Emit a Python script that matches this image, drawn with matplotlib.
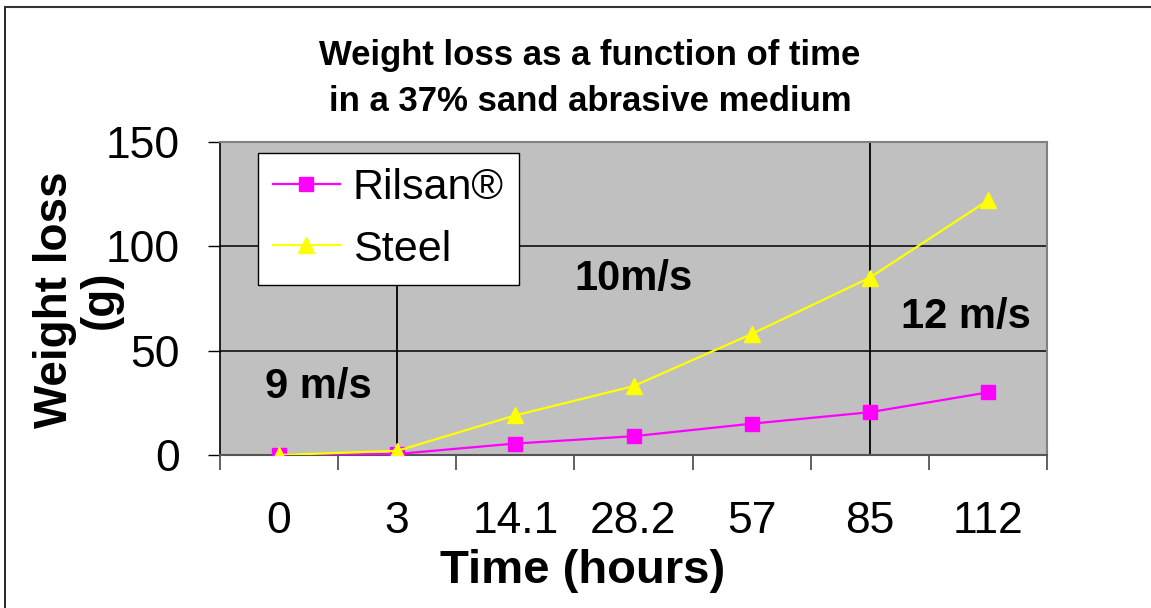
import matplotlib
matplotlib.use("Agg")
import matplotlib.pyplot as plt
from matplotlib.lines import Line2D

plt.rcParams['font.family'] = ['Liberation Sans', 'DejaVu Sans']

# Data
time_labels = ["0", "3", "14.1", "28.2", "57", "85", "112"]
rilsan = [0, 0.5, 5.5, 9, 15, 20.5, 30]
steel = [0, 2, 19, 33, 58, 85, 122]
series_names = ["Rilsan®", "Steel"]
speed_labels = ["9 m/s", "10m/s", "12 m/s"]
speed_x = [0.33, 3.0, 5.81]
speed_y = [32.5, 84.5, 66]
divider_idx = [1, 5]
divider_top = [0.6, 1.0]

fig = plt.figure(figsize=(11.51, 6.08), dpi=100)
ax = fig.add_axes([220/1151, 1-455/608, 827/1151, 313/608])
ax.set_facecolor('#C0C0C0')

x = list(range(len(time_labels)))
ax.set_xlim(-0.5, len(time_labels) - 0.5)
ax.set_ylim(0, 150)

# gridlines
for yv in [50, 100]:
    ax.axhline(yv, color='black', lw=1.1, zorder=1)

# vertical dividers
for d, top in zip(divider_idx, divider_top):
    ax.axvline(d, ymax=top, color='black', lw=1.3, zorder=1.5)

ax.plot(x, rilsan, color='#FF00FF', lw=1.6, marker='s', markersize=10,
        markeredgecolor='#FF00FF', label=series_names[0], zorder=3)
ax.plot(x, steel, color='#FFFF00', lw=1.6, marker='^', markersize=12,
        markeredgecolor='#FFFF00', label=series_names[1], zorder=4)

for t, sx, sy in zip(speed_labels, speed_x, speed_y):
    ax.text(sx, sy, t, fontsize=30, fontweight='bold', ha='center', va='center', zorder=5)

# ticks
ax.set_xticks(x)
ax.set_xticklabels(time_labels, fontsize=32)
ax.set_xticks([i - 0.5 for i in range(len(time_labels) + 1)], minor=True)
ax.tick_params(axis='x', which='major', length=0, pad=33)
ax.tick_params(axis='x', which='minor', length=11, width=1.3, color='#555555', direction='out')
ax.set_yticks([0, 50, 100, 150])
ax.set_yticklabels(["0", "50", "100", "150"], fontsize=32)
ax.tick_params(axis='y', length=9, width=1.0, color='black', pad=20)

for s in ['top', 'right']:
    ax.spines[s].set_color('#808080')
    ax.spines[s].set_linewidth(1.5)
ax.spines['left'].set_color('black')
ax.spines['left'].set_linewidth(1.2)
ax.spines['bottom'].set_color('#555555')
ax.spines['bottom'].set_linewidth(1.5)

leg = ax.legend(loc='upper left', bbox_to_anchor=(0.046, 0.965), borderaxespad=0,
                fontsize=31, frameon=True, fancybox=False, framealpha=1,
                edgecolor='black', handlelength=1.55, handletextpad=0.3,
                borderpad=0.35, labelspacing=0.5)
leg.get_frame().set_linewidth(1.0)
leg.set_zorder(10)

fig.text(583/1151, 1-571/608, "Time (hours)", fontsize=34, fontweight='bold',
         ha='center', va='center')

fig.text(78/1151, 1-300/608, "Weight loss\n(g)", rotation=90, fontsize=33,
         fontweight='bold', ha='center', va='center', multialignment='center',
         linespacing=1.05)

fig.text(590/1151, 1-56/608, "Weight loss as a function of time", fontsize=25,
         fontweight='bold', ha='center', va='center')
fig.text(590/1151, 1-101/608, "in a 37% sand abrasive medium", fontsize=25,
         fontweight='bold', ha='center', va='center')

# figure border lines
fig.add_artist(Line2D([5/1151, 5/1151], [0, 1-7/608], color='black', lw=1.2,
                      transform=fig.transFigure))
fig.add_artist(Line2D([5/1151, 1], [1-7/608, 1-7/608], color='#333333', lw=1.5,
                      transform=fig.transFigure))

fig.savefig("out.png", dpi=100)
